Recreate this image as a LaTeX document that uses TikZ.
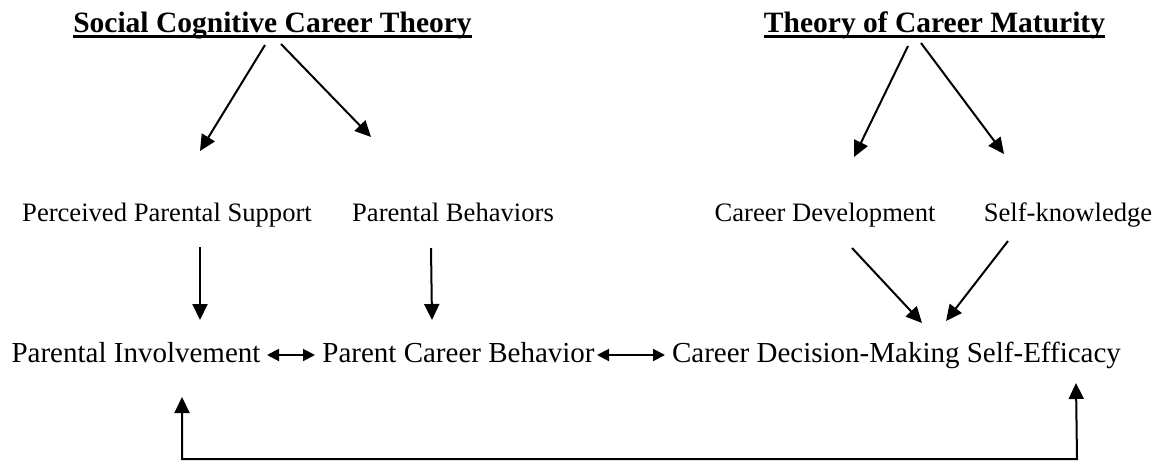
\documentclass[tikz,border=0pt]{standalone}
\usepackage{fontspec}
\setmainfont{Liberation Serif}
\usetikzlibrary{arrows.meta}
\begin{document}
\begin{tikzpicture}[x=1pt,y=-1pt,
  lbl/.style={inner sep=0pt,anchor=base,font=\fontsize{29}{33}\selectfont},
  mid/.style={inner sep=0pt,anchor=base,font=\fontsize{26.6}{30}\selectfont},
  ttl/.style={inner sep=0pt,anchor=base,font=\fontsize{29.5}{33}\selectfont\bfseries},
  arr/.style={line width=2pt,-{Triangle[length=16pt,width=15pt]}},
  darr/.style={line width=2pt,{Triangle[length=12pt,width=12pt]}-{Triangle[length=12pt,width=12pt]}},
  uline/.style={line width=3pt}]
\useasboundingbox[fill=white] (0,0) rectangle (1162,464);
% titles
\node[ttl] (sct) at (272.5,32) {Social Cognitive Career Theory};
\node[ttl] (tcm) at (934.5,32) {Theory of Career Maturity};
\draw[uline] ([yshift=-4pt]sct.base west) -- ([yshift=-4pt]sct.base east);
\draw[uline] ([yshift=-4pt]tcm.base west) -- ([yshift=-4pt]tcm.base east);
% middle row
\node[mid] (pps) at (167,221) {Perceived Parental Support};
\node[mid] (pb) at (453,221) {Parental Behaviors};
\node[mid] (cd) at (825,221) {Career Development};
\node[mid] (sk) at (1068,221) {Self-knowledge};
% bottom row
\node[lbl] (pi) at (136,362) {Parental Involvement};
\node[lbl] (pcb) at (458.5,362) {Parent Career Behavior};
\node[lbl] (cdm) at (896.5,362) {Career Decision-Making Self-Efficacy};
% arrow endpoints
\coordinate (a1s) at (265,45);  \coordinate (a1e) at (200,151);
\coordinate (a2s) at (281,44);  \coordinate (a2e) at (371,137);
\coordinate (a3s) at (908,46);  \coordinate (a3e) at (854,157);
\coordinate (a4s) at (921,43);  \coordinate (a4e) at (1004,154);
\coordinate (b1s) at (200,247); \coordinate (b1e) at (200,320);
\coordinate (b2s) at (431,248); \coordinate (b2e) at (432,320);
\coordinate (c1s) at (852,248); \coordinate (c1e) at (922,323);
\coordinate (c2s) at (1008,241); \coordinate (c2e) at (946,321);
\coordinate (d1l) at (267,355); \coordinate (d1r) at (315,355);
\coordinate (d2l) at (597,355); \coordinate (d2r) at (665,355);
\coordinate (f1) at (182,397);  \coordinate (f2) at (182,459);
\coordinate (f3) at (1077,459); \coordinate (f4) at (1076,383);
% connectors
\draw[arr] (a1s) -- (a1e);
\draw[arr] (a2s) -- (a2e);
\draw[arr] (a3s) -- (a3e);
\draw[arr] (a4s) -- (a4e);
\draw[arr] (b1s) -- (b1e);
\draw[arr] (b2s) -- (b2e);
\draw[arr] (c1s) -- (c1e);
\draw[arr] (c2s) -- (c2e);
\draw[darr] (d1l) -- (d1r);
\draw[darr] (d2l) -- (d2r);
\draw[line width=2pt,{Triangle[length=16pt,width=15pt]}-{Triangle[length=16pt,width=15pt]}] (f1) -- (f2) -- (f3) -- (f4);
\end{tikzpicture}
\end{document}
